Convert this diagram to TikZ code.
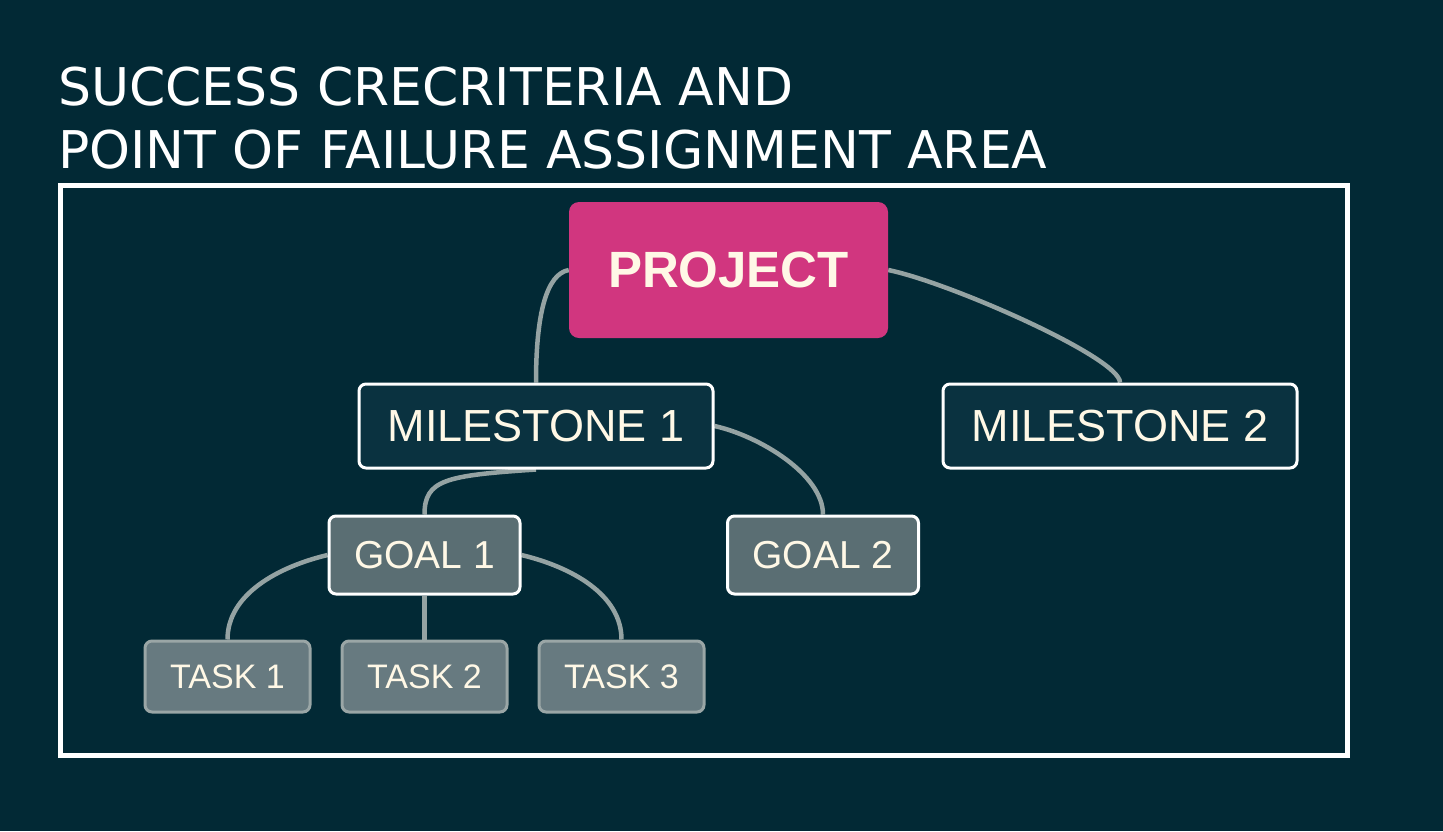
\documentclass[tikz,border=0pt]{standalone}
\usepackage{fontspec}
\usetikzlibrary{backgrounds}
\setmainfont{Liberation Sans}
\newfontfamily\titlefont{DejaVu Sans}
\definecolor{bgc}{HTML}{022935}
\definecolor{projc}{HTML}{D1367F}
\definecolor{msc}{HTML}{0A3240}
\definecolor{goalc}{HTML}{5A6E73}
\definecolor{taskc}{HTML}{677A80}
\definecolor{taskb}{HTML}{9AA6A6}
\definecolor{connc}{HTML}{95A3A3}
\definecolor{txtc}{HTML}{FFF8E6}
\tikzset{
  boxbase/.style={rectangle, text=txtc, inner sep=0pt, anchor=center},
  projbox/.style={boxbase, fill=projc, rounded corners=10pt, minimum width=319pt, minimum height=136pt, font=\fontsize{51}{51}\selectfont\bfseries},
  msbox/.style={boxbase, fill=msc, draw=white, line width=3pt, rounded corners=7pt, minimum width=354pt, minimum height=84pt, font=\fontsize{45}{45}\selectfont},
  goalbox/.style={boxbase, fill=goalc, draw=white, line width=3pt, rounded corners=7pt, minimum width=191pt, minimum height=78pt, font=\fontsize{39}{39}\selectfont},
  taskbox/.style={boxbase, fill=taskc, draw=taskb, line width=3pt, rounded corners=7pt, minimum width=165pt, minimum height=71pt, font=\fontsize{34}{34}\selectfont},
  conn/.style={draw=connc, line width=4.5pt},
  titletext/.style={anchor=base west, inner sep=0pt, text=white, font=\titlefont\fontsize{52}{52}\selectfont}
}
\begin{document}
\begin{tikzpicture}[x=1pt,y=-1pt]
\useasboundingbox (0,0) rectangle (1443,831);
\node[titletext] (t1) at (58,105) {SUCCESS CRECRITERIA AND};
\node[titletext] (t2) at (58,168) {POINT OF FAILURE ASSIGNMENT AREA};
\node[projbox] (proj) at (728.5,270) {PROJECT};
\node[msbox] (ms1) at (536,426) {MILESTONE 1};
\node[msbox] (ms2) at (1120,426) {MILESTONE 2};
\node[goalbox] (g1) at (424.5,555) {GOAL 1};
\node[goalbox] (g2) at (823,555) {GOAL 2};
\node[taskbox] (t1b) at (227.5,676.5) {TASK 1};
\node[taskbox] (t2b) at (424.5,676.5) {TASK 2};
\node[taskbox] (t3b) at (621.5,676.5) {TASK 3};
\begin{scope}[on background layer]
\fill[bgc] (0,0) rectangle (1443,831);
\draw[white, line width=5pt] (60.5,185.5) rectangle (1347.5,755);
\draw[conn] (proj.west) .. controls +(-22,4) and +(0,-70) .. (ms1.north);
\draw[conn] (proj.east) .. controls +(60,12) and +(0,-25) .. (ms2.north);
\draw[conn] (ms1.south) .. controls +(-90,6) and +(0,-35) .. (g1.north);
\draw[conn] (ms1.east) .. controls +(45,10) and +(0,-40) .. (g2.north);
\draw[conn] (g1.west) .. controls +(-50,12) and +(0,-45) .. (t1b.north);
\draw[conn] (g1.south) -- (t2b.north);
\draw[conn] (g1.east) .. controls +(50,12) and +(0,-45) .. (t3b.north);
\end{scope}
\end{tikzpicture}
\end{document}
